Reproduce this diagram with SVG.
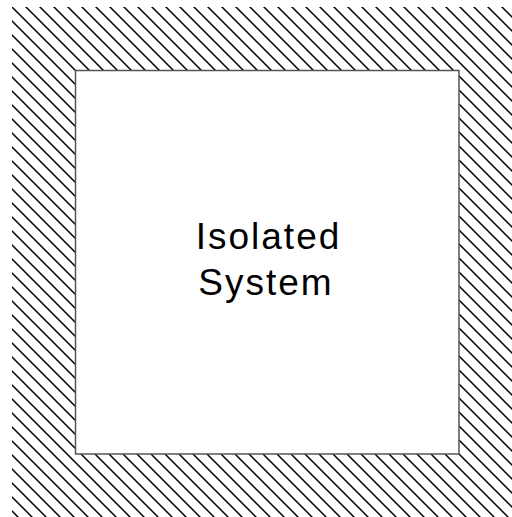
<svg xmlns="http://www.w3.org/2000/svg" width="512" height="517" viewBox="0 0 512 517">
  <style>
    .lbl { font-family: "Liberation Sans", Arial, sans-serif; font-size: 37px; fill: #000; letter-spacing: 2px; text-anchor: middle; }
    .hatch { stroke: #000; stroke-width: 1.5; fill: none; }
  </style>
  <defs>
    <pattern id="hatch" patternUnits="userSpaceOnUse" x="5" y="0" width="14" height="14">
      <path class="hatch" d="M-1,-1 L15,15 M-1,13 L1,15 M13,-1 L15,1"/>
    </pattern>
  </defs>
  <g id="surroundings">
    <rect x="12" y="7" width="500" height="510" fill="url(#hatch)"/>
  </g>
  <g id="isolated-system">
    <rect x="75.5" y="70.5" width="383.5" height="383.5" fill="#fff" stroke="#555" stroke-width="1.5"/>
    <text class="lbl" x="268.5" y="249">Isolated</text>
    <text class="lbl" x="266" y="295">System</text>
  </g>
</svg>
